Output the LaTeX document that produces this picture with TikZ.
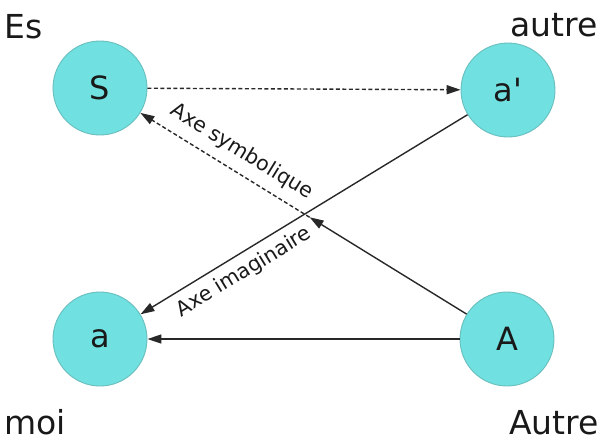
\documentclass[tikz,border=0pt]{standalone}
\usepackage{fontspec}
\newfontfamily\dv{DejaVu Sans}
\usetikzlibrary{arrows.meta,calc}
\definecolor{cfill}{RGB}{112,224,224}
\definecolor{cline}{RGB}{105,190,190}
\definecolor{ink}{RGB}{25,25,25}
\definecolor{lnk}{RGB}{40,40,40}
\begin{document}
\begin{tikzpicture}[x=1pt,y=-1pt,
  circ/.style={circle, fill=cfill, draw=cline, line width=0.9pt, minimum size=94pt, inner sep=0pt, font=\dv\fontsize{32}{38}\selectfont, text=ink},
  lbl/.style={inner sep=0pt, font=\dv\fontsize{33}{40}\selectfont, text=ink},
  axe/.style={font=\dv\fontsize{20.5}{24}\selectfont, text=ink, inner sep=0pt},
  conn/.style={draw=lnk, line width=1.4pt, -{Triangle[length=14pt,width=9pt]}},
  dsh/.style={conn, dash pattern=on 4pt off 2.5pt}]
\useasboundingbox (0,0) rectangle (609,445);
\node[circ] (S) at (100,88) {S};
\node[circ] (ap) at (508,90) {a\char"27};
\node[circ] (a) at (100,339) {a};
\node[circ] (A) at (507,339) {A};
\node[lbl, anchor=base west] (es) at (4,38) {Es};
\node[lbl, anchor=base east] (autre) at (598,36) {autre};
\node[lbl, anchor=base west] (moi) at (4,434) {moi};
\node[lbl, anchor=base east] (Autre) at (599,434) {Autre};
\coordinate (m) at ($(S.center)!0.515!(A.center)$);
\draw[dsh] (S) -- (ap);
\draw[conn] (A) -- (m);
\draw[dsh] (m) -- (S);
\draw[conn] (ap) -- (a);
\draw[conn] (A) -- (a);
\path (S.center) -- (A.center) node[axe, pos=0.322, sloped, above=10pt] (axs) {Axe symbolique};
\path (a.center) -- (ap.center) node[axe, pos=0.33, sloped, below=8pt] (axi) {Axe imaginaire};
\end{tikzpicture}
\end{document}
